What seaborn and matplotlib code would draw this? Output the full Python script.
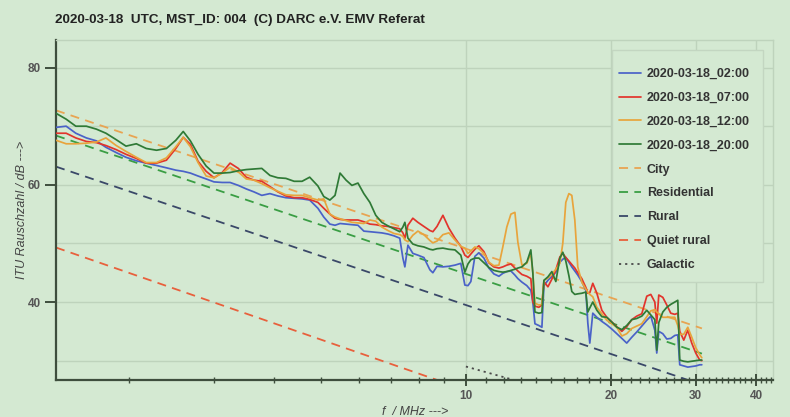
import matplotlib
matplotlib.use("Agg")
import matplotlib.pyplot as plt
from matplotlib.patches import Rectangle
from matplotlib.ticker import FixedLocator, NullFormatter, FuncFormatter
import pandas as pd
import seaborn as sns

# ---------------- data ----------------
freq_mhz = [1.41, 1.48, 1.55, 1.63, 1.71, 1.79, 1.88, 1.97, 2.07, 2.17,
            2.28, 2.39, 2.50, 2.59, 2.68, 2.78, 2.89, 3.00, 3.12, 3.24,
            3.37, 3.50, 3.63, 3.77, 3.92, 4.07, 4.23, 4.40, 4.57, 4.74,
            4.93, 5.07, 5.22, 5.35, 5.48, 5.64, 5.80, 5.97, 6.14, 6.32,
            6.50, 6.69, 6.89, 7.09, 7.29, 7.40, 7.47, 7.58, 7.76, 7.95,
            8.18, 8.42, 8.54, 8.71, 8.96, 9.22, 9.49, 9.76, 9.95, 10.10,
            10.24, 10.44, 10.64, 10.90, 11.16, 11.43, 11.71, 11.93, 12.16, 12.40,
            12.64, 12.82, 13.07, 13.38, 13.64, 13.77, 13.91, 14.17, 14.38, 14.52,
            14.80, 15.08, 15.37, 15.67, 15.89, 16.12, 16.36, 16.59, 16.83, 17.07,
            17.40, 17.74, 17.91, 18.08, 18.34, 18.70, 19.15, 19.61, 20.08, 20.57,
            21.07, 21.57, 22.10, 22.63, 23.18, 23.74, 24.20, 24.67, 24.90, 25.14,
            25.63, 26.12, 26.62, 27.14, 27.53, 27.79, 28.33, 28.88, 29.43, 30.00,
            30.58, 30.88]

db_0200 = [69.8, 70.0, 68.8, 68.0, 67.5, 66.4, 65.5, 64.7, 64.1, 63.7,
           63.3, 62.9, 62.5, 62.3, 62.0, 61.5, 61.0, 60.5, 60.4, 60.4,
           59.9, 59.3, 58.8, 58.2, 58.5, 58.1, 57.8, 57.7, 57.6, 57.4,
           56.0, 54.5, 53.3, 53.1, 53.4, 53.3, 53.2, 53.1, 52.1, 52.0,
           51.9, 51.8, 51.6, 51.3, 50.9, 47.5, 46.0, 49.7, 48.3, 48.0,
           47.6, 45.5, 45.0, 46.1, 46.0, 46.1, 46.3, 46.6, 42.9, 42.8,
           43.5, 47.8, 48.4, 47.5, 45.8, 44.8, 44.4, 44.9, 45.2, 45.3,
           44.6, 44.0, 43.4, 42.8, 42.0, 40.0, 36.3, 36.0, 35.7, 42.8,
           43.7, 44.4, 45.1, 46.8, 47.3, 47.6, 46.8, 46.0, 45.3, 44.6,
           43.5, 42.0, 36.4, 33.0, 38.1, 37.4, 36.7, 36.1, 35.4, 34.6,
           33.8, 33.0, 34.0, 34.9, 35.9, 36.9, 37.6, 35.2, 31.3, 35.0,
           34.6, 33.7, 33.8, 34.3, 34.4, 29.3, 29.1, 28.9, 29.0, 29.1,
           29.3, 29.3]

db_0700 = [68.8, 68.8, 68.0, 67.4, 67.2, 66.7, 66.0, 65.2, 64.5, 63.7,
           63.7, 64.2, 66.2, 68.1, 66.9, 64.0, 62.3, 61.2, 62.1, 63.7,
           62.8, 61.3, 60.8, 60.6, 59.7, 58.8, 58.1, 57.8, 57.8, 57.5,
           57.0, 56.0, 55.0, 54.3, 54.1, 54.0, 54.0, 54.0, 53.7, 53.3,
           53.2, 53.0, 52.9, 52.7, 52.5, 51.8, 50.9, 53.1, 54.3, 53.6,
           52.9, 52.2, 52.0, 52.9, 54.8, 52.6, 50.9, 49.5, 48.0, 47.6,
           48.2, 49.0, 49.6, 48.6, 46.7, 46.0, 45.8, 46.0, 46.3, 46.5,
           45.8, 45.3, 44.7, 44.4, 44.0, 40.0, 39.3, 39.1, 39.5, 43.5,
           42.6, 43.9, 45.5, 47.7, 48.3, 47.6, 47.0, 46.4, 45.8, 45.0,
           44.0, 42.5, 41.5, 41.6, 43.2, 41.5, 38.6, 37.4, 36.6, 35.8,
           35.0, 35.8, 37.0, 37.6, 38.0, 41.0, 41.3, 40.0, 36.4, 41.2,
           40.8, 39.5, 38.1, 37.9, 38.1, 35.0, 33.5, 35.2, 33.0, 31.3,
           30.1, 30.0]

db_1200 = [67.6, 67.0, 67.0, 67.1, 67.3, 68.0, 66.7, 65.7, 64.7, 63.8,
           63.8, 64.6, 66.5, 68.1, 66.5, 63.8, 61.5, 61.2, 62.0, 63.0,
           62.2, 61.0, 60.8, 60.2, 59.5, 58.9, 58.3, 58.2, 58.2, 57.8,
           57.4, 57.6, 55.0, 54.5, 54.2, 53.9, 53.6, 53.5, 53.4, 54.0,
           53.8, 52.8, 52.2, 51.7, 51.5, 51.2, 50.6, 50.3, 51.4, 52.1,
           51.5, 50.5, 50.1, 50.4, 51.5, 51.8, 50.6, 49.5, 49.2, 48.3,
           48.7, 49.4, 49.1, 48.3, 46.8, 46.2, 46.3, 49.4, 52.8, 55.0,
           55.3, 50.2, 46.3, 46.6, 48.3, 45.0, 39.8, 39.5, 39.6, 43.7,
           44.1, 44.7, 45.6, 46.6, 50.0, 57.0, 58.5, 58.2, 54.0, 46.0,
           43.4, 42.2, 41.7, 41.3, 40.9, 39.1, 38.0, 36.9, 36.3, 35.7,
           34.2, 34.6, 35.5, 35.9, 36.3, 37.5, 38.5, 38.7, 38.3, 38.0,
           37.4, 37.4, 37.4, 37.4, 36.0, 34.5, 34.5, 35.7, 34.0, 32.2,
           31.0, 30.5]

db_2000 = [72.2, 71.2, 70.0, 70.0, 69.5, 68.8, 67.7, 66.6, 67.0, 66.2,
           65.9, 66.2, 67.6, 69.1, 67.5, 65.2, 63.2, 62.0, 62.0, 62.1,
           62.4, 62.6, 62.7, 62.8, 61.6, 61.2, 61.1, 60.6, 60.6, 61.3,
           59.8, 58.0, 57.4, 58.2, 62.0, 60.8, 59.9, 60.3, 58.5, 57.0,
           54.8, 53.6, 53.0, 52.5, 52.0, 52.8, 53.6, 50.9, 49.9, 49.6,
           49.4, 49.0, 48.9, 49.1, 49.2, 49.0, 48.9, 48.0, 45.1, 46.5,
           47.2, 47.5, 47.5, 46.7, 45.9, 45.4, 45.2, 45.1, 45.2, 45.4,
           45.6, 45.8, 46.0, 46.8, 48.9, 45.0, 38.3, 38.1, 38.2, 43.7,
           44.3, 45.2, 43.5, 47.5, 48.5, 47.0, 44.5, 41.8, 41.3, 41.4,
           41.5, 41.7, 38.3, 39.0, 40.0, 38.6, 37.5, 37.4, 36.6, 35.7,
           35.3, 36.0, 37.0, 37.2, 37.6, 38.6, 37.8, 37.0, 31.8, 36.5,
           38.3, 39.1, 39.6, 40.0, 40.3, 30.1, 29.9, 29.8, 29.9, 30.0,
           30.1, 30.1]

series_labels = ["2020-03-18_02:00", "2020-03-18_07:00",
                 "2020-03-18_12:00", "2020-03-18_20:00"]

# ITU noise model lines (end points)
model_freq = [1.41, 30.9]
city_db = [72.7, 35.5]
residential_db = [68.4, 31.2]
rural_db = [63.1, 25.9]
quiet_rural_db = [49.3, 11.0]
galactic_freq = [10.0, 30.9]
galactic_db = [29.0, 17.7]

x_major = [10, 20, 30, 40]
x_minor = [2, 3, 4, 5, 6, 7, 8, 9, 11, 12, 13, 14, 15, 16, 17, 18, 19,
           21, 22, 23, 24, 25, 26, 27, 28, 29, 31, 32, 33, 34, 35, 36, 37,
           38, 39, 41, 42, 43]
y_major = [40, 60, 80]
y_minor = [30, 50, 70]

title = "2020-03-18  UTC, MST_ID: 004  (C) DARC e.V. EMV Referat"

# ---------------- style ----------------
bg = "#d4e9d2"
gridc = "#bed3bc"
spinec = "#3e4e3d"
sns.set_theme(style="white")
plt.rcParams["font.family"] = ["Liberation Sans", "DejaVu Sans"]

colors = ["#4a62c8", "#e2342c", "#e8a43c", "#2f7a36"]

fig = plt.figure(figsize=(7.9, 4.17), dpi=100, facecolor=bg)
ax = fig.add_axes([0.0709, 0.0887, 0.9076, 0.8153], facecolor=bg)

df = pd.DataFrame({"f": freq_mhz, series_labels[0]: db_0200,
                   series_labels[1]: db_0700, series_labels[2]: db_1200,
                   series_labels[3]: db_2000})
for lab, col in zip(series_labels, colors):
    sns.lineplot(data=df, x="f", y=lab, ax=ax, color=col, lw=1.25,
                 label=lab, sort=False, zorder=3)

models = [("City", model_freq, city_db, "#e8a452", (5, 3.5)),
          ("Residential", model_freq, residential_db, "#3a9e44", (5, 3.5)),
          ("Rural", model_freq, rural_db, "#3a4868", (5, 3.5)),
          ("Quiet rural", model_freq, quiet_rural_db, "#e8603c", (5, 3.5)),
          ("Galactic", galactic_freq, galactic_db, "#4a4a4a", (1.2, 2.2))]
for name, fx, fy, col, dash in models:
    sns.lineplot(x=fx, y=fy, ax=ax, color=col, lw=1.3, label=name,
                 dashes=False, zorder=2).lines[-1].set_dashes(dash)

ax.set_xscale("log")
ax.set_xlim(1.41, 43.4)
ax.set_ylim(26.7, 84.7)

ax.xaxis.set_major_locator(FixedLocator(x_major))
ax.xaxis.set_minor_locator(FixedLocator(x_minor))
ax.xaxis.set_major_formatter(FuncFormatter(lambda v, p: f"{v:g}"))
ax.xaxis.set_minor_formatter(NullFormatter())
ax.yaxis.set_major_locator(FixedLocator(y_major))
ax.yaxis.set_minor_locator(FixedLocator(y_minor))
ax.yaxis.set_minor_formatter(NullFormatter())

ax.grid(True, which="major", axis="x", color=gridc, lw=1.0, zorder=0)
ax.grid(True, which="both", axis="y", color=gridc, lw=1.0, zorder=0)
ax.set_axisbelow(True)

ax.tick_params(axis="x", which="both", bottom=True, top=False)
ax.tick_params(axis="y", which="both", left=True, right=False)
ax.tick_params(axis="x", which="major", direction="inout", length=9,
               width=1.4, color=spinec, labelsize=8.5, labelcolor="#555555",
               pad=3)
ax.tick_params(axis="x", which="minor", direction="inout", length=5,
               width=1.0, color=spinec)
ax.tick_params(axis="y", which="major", direction="out", length=8,
               width=1.4, color=spinec, labelsize=8.5, labelcolor="#555555",
               pad=3)
ax.tick_params(axis="y", which="minor", length=0)
for lbl in ax.get_xticklabels() + ax.get_yticklabels():
    lbl.set_fontweight("bold")

for s in ["left", "bottom"]:
    ax.spines[s].set_color(spinec)
    ax.spines[s].set_linewidth(1.6)
for s in ["top", "right"]:
    ax.spines[s].set_color(gridc)
    ax.spines[s].set_linewidth(1.0)

ax.set_xlabel("")
ax.set_ylabel("")
fig.text(0.070, 0.952, title, fontsize=9.7, fontweight="bold",
         color="#222222", ha="left", va="center")
fig.text(0.028, 0.497, "ITU Rauschzahl / dB --->", rotation=90,
         fontsize=9, fontstyle="italic", color="#444444",
         ha="center", va="center")
fig.text(0.525, 0.012, "f  / MHz --->", fontsize=9, fontstyle="italic",
         color="#444444", ha="center", va="center")

# legend box drawn separately so the entries can sit lower inside it
ax.add_patch(Rectangle((0.775, 0.288), 0.211, 0.6826, transform=ax.transAxes,
                       facecolor=bg, edgecolor="#c3d6c1", lw=1.0, zorder=9))
leg = ax.legend(loc="upper left", bbox_to_anchor=(0.771, 0.947),
                borderaxespad=0, fontsize=9, handlelength=1.8,
                handletextpad=0.45, labelspacing=0.95, borderpad=0.8,
                frameon=False)
for t in leg.get_texts():
    t.set_color("#333333")
    t.set_fontweight("bold")
leg.set_zorder(10)

fig.savefig("out.png", dpi=100, facecolor=bg)
